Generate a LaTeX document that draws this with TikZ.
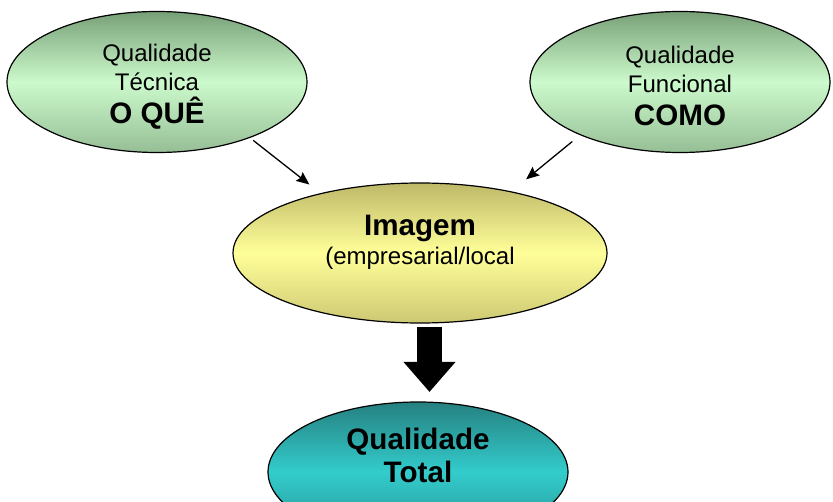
\documentclass[tikz,border=0pt]{standalone}
\usepackage{fontspec}
\setmainfont{Liberation Sans}
\usetikzlibrary{shapes.geometric,arrows.meta}

\definecolor{verdetop}{RGB}{120,160,120}
\definecolor{verdemid}{RGB}{204,250,204}
\definecolor{verdebot}{RGB}{150,190,150}
\definecolor{amarelotop}{RGB}{190,185,105}
\definecolor{amarelomid}{RGB}{255,255,153}
\definecolor{amarelobot}{RGB}{205,200,115}
\definecolor{cianotop}{RGB}{38,128,128}
\definecolor{cianomid}{RGB}{51,204,204}
\definecolor{cianobot}{RGB}{40,145,145}

\newcommand{\txtnormal}{\fontsize{24}{28.5}\selectfont}
\newcommand{\txtbold}{\fontsize{29.6}{28.5}\selectfont\bfseries}

\tikzset{
  oval/.style={ellipse, draw=black, line width=1.2pt, inner sep=0pt,
    align=center, font=\txtnormal},
  verde/.style={oval, minimum width=300pt, minimum height=141pt,
    top color=verdetop, bottom color=verdebot, middle color=verdemid,
    font=\fontsize{24}{29}\selectfont},
  amarelo/.style={oval, minimum width=374pt, minimum height=140pt,
    top color=amarelotop, bottom color=amarelobot, middle color=amarelomid},
  ciano/.style={oval, minimum width=300pt, minimum height=140pt,
    top color=cianotop, bottom color=cianobot, middle color=cianomid},
  seta/.style={-{Stealth[length=13pt,width=11pt,inset=2pt]}, line width=1.3pt},
  setagrande/.style={-{Triangle[length=30pt,width=50pt]}, line width=25pt,
    line cap=butt}
}

\begin{document}
\begin{tikzpicture}[x=1pt,y=-1pt]
  \useasboundingbox (0,0) rectangle (833,502);

  % as duas dimensoes da qualidade
  \node[verde] (tecnica) at (157,82)
    {\rule{0pt}{26pt}Qualidade\\Técnica\\[4pt]{\txtbold O QUÊ}};
  \node[verde] (funcional) at (680,82)
    {\rule{0pt}{26pt}Qualidade\\Funcional\\[4pt]{\txtbold COMO}};

  % imagem
  \node[amarelo] (imagem) at (420,253)
    {{\txtbold Imagem}\\(empresarial/local\rule[-26pt]{0pt}{26pt}};

  % resultado
  \node[ciano, font=\fontsize{29.6}{33}\selectfont\bfseries] (total) at (418,472)
    {Qualidade\\Total\rule[-33pt]{0pt}{33pt}};

  \draw[seta, shorten <=4pt, shorten >=14pt] (tecnica.-31) -- (imagem.149);
  \draw[seta, shorten <=10pt, shorten >=19pt] (funcional.-152) -- (imagem.34);

  \coordinate (dtop) at (429.5,327);
  \coordinate (dtip) at (429.5,392);
  \draw[setagrande] (dtop) -- (dtip);
\end{tikzpicture}
\end{document}
